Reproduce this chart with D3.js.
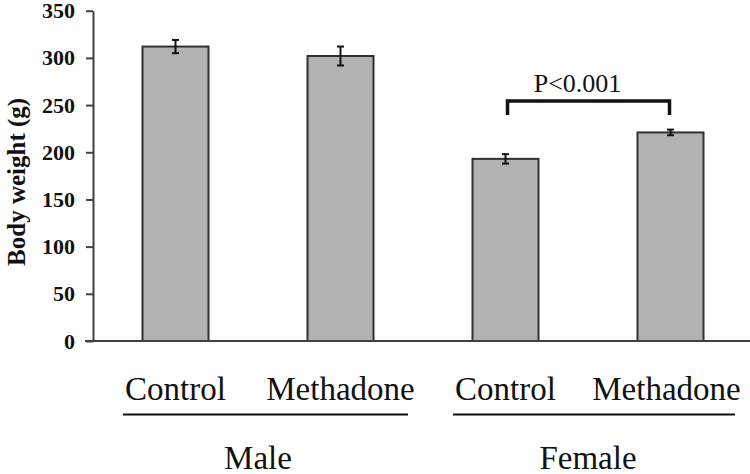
<!DOCTYPE html>
<html><head><meta charset="utf-8">
<script src="https://cdn.jsdelivr.net/npm/d3@7"></script>
<style>body{margin:0;background:#fff}svg{display:block}text{font-family:"Liberation Serif","Times New Roman",serif}</style>
</head><body><svg id="c" width="750" height="474"></svg>
<script>
const categories = ["Control", "Methadone", "Control", "Methadone"];
const groups = ["Male", "Male", "Female", "Female"];
const groupNames = ["Male", "Female"];
const values = [312, 302, 193, 221];
const errors = [7, 10, 5, 3];
const yTicks = [0, 50, 100, 150, 200, 250, 300, 350];
const sigLabel = "P<0.001";

(function () {
const svg = d3.select("#c");
const pLeft = 93, pRight = 753, pTop = 10.7, pBottom = 341;
const keys = categories.map((c, i) => i);
const x = d3.scaleBand().domain(keys).range([pLeft, pRight]).paddingInner(0.6).paddingOuter(0.3);
const y = d3.scaleLinear().domain([0, 350]).range([pBottom, pTop]);
const bw = x.bandwidth();
const cx = i => x(i) + bw / 2;

// bars
svg.selectAll("rect.bar").data(values).enter().append("rect")
  .attr("x", (d, i) => x(i)).attr("y", d => y(d))
  .attr("width", bw).attr("height", d => pBottom - y(d))
  .attr("fill", "#b2b2b2").attr("stroke", "#303030").attr("stroke-width", 2);

// error bars
const eg = svg.append("g").attr("stroke", "#111").attr("stroke-width", 2);
values.forEach((v, i) => {
  eg.append("line").attr("x1", cx(i)).attr("x2", cx(i)).attr("y1", y(v - errors[i])).attr("y2", y(v + errors[i]));
  eg.append("line").attr("x1", cx(i) - 3.5).attr("x2", cx(i) + 3.5).attr("y1", y(v + errors[i])).attr("y2", y(v + errors[i]));
  eg.append("line").attr("x1", cx(i) - 3.5).attr("x2", cx(i) + 3.5).attr("y1", y(v - errors[i])).attr("y2", y(v - errors[i]));
});

// y axis
const yAxis = d3.axisLeft(y).tickValues(yTicks).tickSize(7).tickPadding(11).tickSizeOuter(0);
const ya = svg.append("g").attr("transform", `translate(${pLeft},0)`).call(yAxis);
ya.select(".domain").attr("stroke", "#404040").attr("stroke-width", 2);
ya.selectAll(".tick line").attr("stroke", "#404040").attr("stroke-width", 2);
ya.selectAll(".tick text").attr("font-size", 22).attr("font-weight", "bold").attr("fill", "#111")
  .style("font-family", '"Liberation Serif", serif');

// x axis line
svg.append("line").attr("x1", 85).attr("x2", 750).attr("y1", pBottom).attr("y2", pBottom)
  .attr("stroke", "#404040").attr("stroke-width", 2);

// y title
svg.append("text").attr("transform", `translate(25,${(pTop + pBottom) / 2 + 6}) rotate(-90)`)
  .attr("text-anchor", "middle").attr("font-size", 25).attr("font-weight", "bold").attr("fill", "#111")
  .text("Body weight (g)");

// category labels
svg.selectAll("text.cat").data(categories).enter().append("text")
  .attr("x", (d, i) => cx(i) + (i === 3 ? -4 : 0)).attr("y", 400).attr("text-anchor", "middle")
  .attr("font-size", 33).attr("fill", "#111").text(d => d);

// group underlines and labels
groupNames.forEach(g => {
  const idx = keys.filter(i => groups[i] === g);
  const x0 = cx(idx[0]), x1 = cx(idx[idx.length - 1]);
  const lx0 = g === "Male" ? 123 : 453, lx1 = g === "Male" ? 408 : 735;
  svg.append("line").attr("x1", lx0).attr("x2", lx1).attr("y1", 414.5).attr("y2", 414.5)
    .attr("stroke", "#111").attr("stroke-width", 2.2);
  svg.append("text").attr("x", (x0 + x1) / 2).attr("y", 469).attr("text-anchor", "middle")
    .attr("font-size", 33).attr("fill", "#111").text(g);
});

// significance bracket
const b0 = cx(2) + 2, b1 = cx(3) - 1, by = 101;
svg.append("path").attr("d", `M${b0},115V${by}H${b1}V115`).attr("fill", "none")
  .attr("stroke", "#111").attr("stroke-width", 3.5);
svg.append("text").attr("x", (b0 + b1) / 2 - 11).attr("y", 92).attr("text-anchor", "middle")
  .attr("font-size", 26).attr("fill", "#111").text(sigLabel);
})();
</script></body></html>
